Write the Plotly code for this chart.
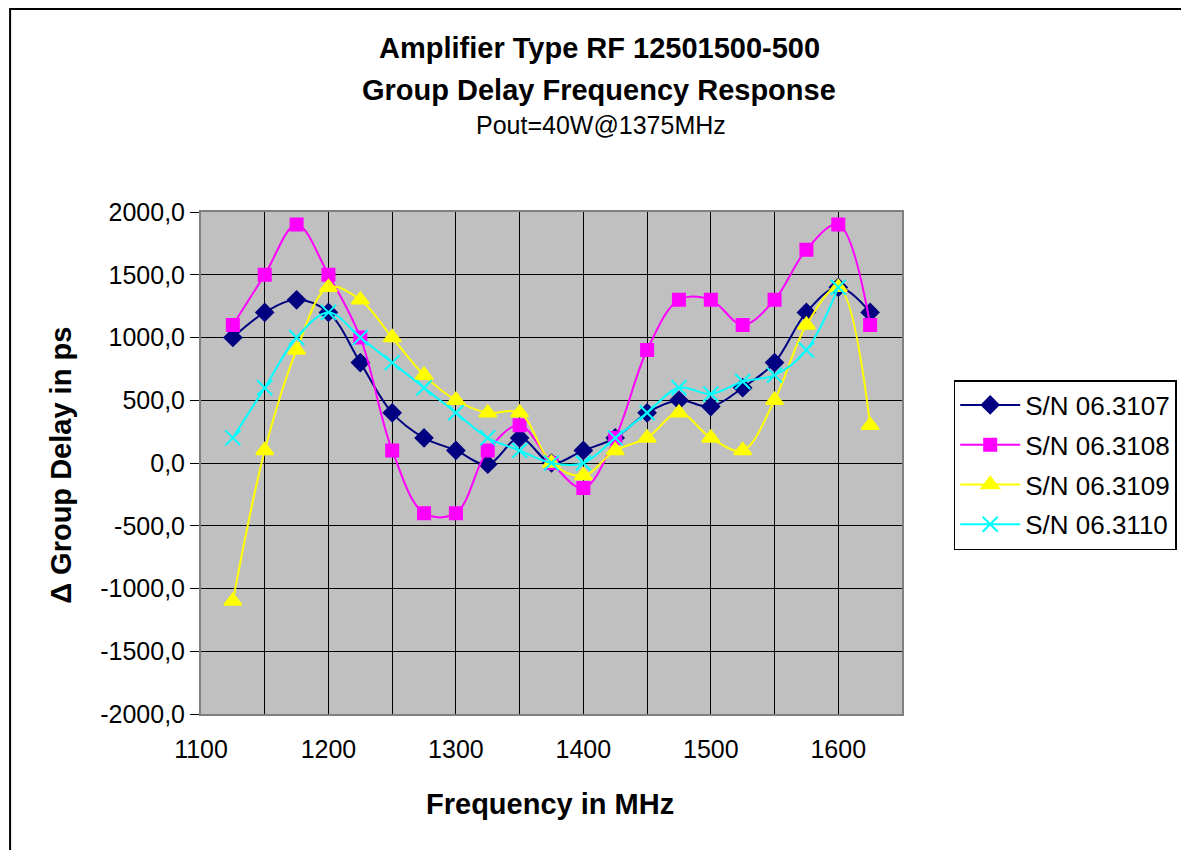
import plotly.graph_objects as go

freq = [1125, 1150, 1175, 1200, 1225, 1250, 1275, 1300, 1325, 1350, 1375,
        1400, 1425, 1450, 1475, 1500, 1525, 1550, 1575, 1600, 1625]
sn3107 = [1000, 1200, 1300, 1200, 800, 400, 200, 100, -10, 200, 0,
          100, 200, 400, 500, 450, 600, 800, 1200, 1400, 1200]
sn3108 = [1100, 1500, 1900, 1500, 1000, 100, -400, -400, 100, 300, 0,
          -200, 200, 900, 1300, 1300, 1100, 1300, 1700, 1900, 1100]
sn3109 = [-1100, 100, 900, 1400, 1300, 1000, 700, 500, 400, 400, 0,
          -100, 100, 200, 400, 200, 100, 500, 1100, 1400, 300]
sn3110 = [200, 600, 1000, 1200, 1000, 800, 600, 400, 200, 100, 0,
          0, 200, 400, 600, 550, 650, 700, 900, 1400, None]
names = ["S/N 06.3107", "S/N 06.3108", "S/N 06.3109", "S/N 06.3110"]
x_ticks = [1100, 1150, 1200, 1250, 1300, 1350, 1400, 1450, 1500, 1550, 1600, 1650]
y_ticks = [-2000, -1500, -1000, -500, 0, 500, 1000, 1500, 2000]

FONT = "Arial, Liberation Sans, sans-serif"
series = [sn3107, sn3108, sn3109, sn3110]
colors = ["#000080", "#FF00FF", "#FFFF00", "#00FFFF"]
symbols = ["diamond", "square", "triangle-up", "x-thin-open"]
sizes = [13, 12, 15, 15]

fig = go.Figure()
for i, (vals, name) in enumerate(zip(series, names)):
    fig.add_trace(go.Scatter(
        x=freq, y=vals, name=name, mode="lines+markers",
        line=dict(color=colors[i], width=2, shape="spline", smoothing=1.0),
        marker=dict(symbol=symbols[i], size=sizes[i], color=colors[i],
                    line=dict(color=colors[i], width=2)),
        legendgroup=name, connectgaps=False,
    ))

OFF = 8  # page body margin
W, H = 1189 - OFF, 850 - OFF
L, R, T, B = 201 - OFF, 906 - OFF, 212 - OFF, 714 - OFF
pw, ph = R - L, B - T

def px(x):
    return (x - OFF - L) / pw

def py(y):
    return (B - (y - OFF)) / ph

fig.update_layout(
    width=W, height=H,
    margin=dict(l=L, r=W - R, t=T, b=H - B, pad=0),
    paper_bgcolor="white", plot_bgcolor="#C0C0C0",
    font=dict(family=FONT, size=25, color="black"),
    showlegend=True,
    legend=dict(x=px(958), y=py(380), xanchor="left", yanchor="top",
                bordercolor="black", borderwidth=1.5, bgcolor="white",
                font=dict(size=26, family=FONT), tracegroupgap=3,
                itemwidth=60),
    xaxis=dict(range=[1100, 1650], tickvals=x_ticks,
               ticktext=[str(v) if v % 100 == 0 and v <= 1600 else "" for v in x_ticks],
               showgrid=True, gridcolor="black", gridwidth=1,
               showline=True, linecolor="#808080", linewidth=2, mirror=True,
               ticks="", tickfont=dict(size=25), zeroline=False,
               ticklabelstandoff=12),
    yaxis=dict(range=[-2000, 2000], tickvals=y_ticks,
               ticktext=[f"{v},0" for v in y_ticks],
               showgrid=True, gridcolor="black", gridwidth=1,
               showline=True, linecolor="#808080", linewidth=2, mirror=True,
               ticks="outside", ticklen=9, tickcolor="black",
               tickfont=dict(size=25), zeroline=False),
)

def note(text, x, y, size, angle=0):
    fig.add_annotation(text=text, xref="paper", yref="paper", x=px(x), y=py(y),
                       xanchor="center", yanchor="middle", showarrow=False,
                       textangle=angle, font=dict(size=size, family=FONT))

note("<b>Amplifier Type RF 12501500-500</b>", 602, 48, 29)
note("<b>Group Delay Frequency Response</b>", 601, 90, 29)
note("Pout=40W@1375MHz", 603, 125, 25)
note("<b>Frequency in MHz</b>", 552, 804, 29)
note("<b>Δ Group Delay in ps</b>", 60, 465, 29, angle=-90)

fig.add_shape(type="rect", xref="paper", yref="paper",
              x0=px(9), x1=px(1200), y0=py(9), y1=py(860),
              line=dict(color="black", width=2), fillcolor="rgba(0,0,0,0)", layer="below")

fig.write_html("out.html")
